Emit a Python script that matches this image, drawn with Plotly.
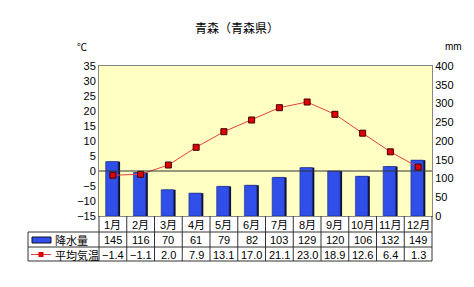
import plotly.graph_objects as go

months = ["1月", "2月", "3月", "4月", "5月", "6月", "7月", "8月", "9月", "10月", "11月", "12月"]
precip = [145, 116, 70, 61, 79, 82, 103, 129, 120, 106, 132, 149]
temp = [-1.4, -1.1, 2.0, 7.9, 13.1, 17.0, 21.1, 23.0, 18.9, 12.6, 6.4, 1.3]
temp_labels = ["-1.4", "-1.1", "2.0", "7.9", "13.1", "17.0", "21.1", "23.0", "18.9", "12.6", "6.4", "1.3"]

FONT = "Liberation Sans, Noto Sans CJK JP"
W, H = 474, 287
L, R, T, B = 99, 432, 66, 216
xs = list(range(len(months)))

fig = go.Figure()
fig.add_trace(go.Bar(x=xs, y=precip, width=0.46, offset=-0.20, marker=dict(color="#111133", line=dict(width=0)),
                     yaxis="y", hoverinfo="skip", showlegend=False))
fig.add_trace(go.Bar(x=xs, y=precip, width=0.45, offset=-0.26, marker=dict(color="#2F4FE8", line=dict(width=0.6, color="#1a2a80")),
                     yaxis="y", name="降水量", showlegend=False))
fig.add_trace(go.Scatter(x=xs, y=temp, yaxis="y2", mode="lines+markers", name="平均気温",
                         line=dict(color="#E84040", width=1),
                         marker=dict(symbol="square", size=6, color="#E00000", line=dict(width=1, color="#400000")),
                         showlegend=False))

shapes = []
annotations = []
shapes.append(dict(type="line", xref="paper", yref="y2", x0=0, x1=1, y0=0, y1=0, line=dict(color="#333333", width=1)))

def px(xp):
    return (xp - L) / (R - L)

def py(yp):
    return (B - yp) / (B - T)

def text(x, y, s, size=11, xanchor="center", family=FONT):
    annotations.append(dict(xref="paper", yref="paper", x=px(x), y=py(y), text=s, showarrow=False,
                            xanchor=xanchor, yanchor="middle",
                            font=dict(family=family, size=size, color="#000")))

TL = 28
row_y = [216, 232, 247, 261]
col_w = (R - L) / 12
line_style = dict(color="#333333", width=1)
for i in range(13):
    x = L + i * col_w
    shapes.append(dict(type="line", xref="paper", yref="paper", x0=px(x), x1=px(x), y0=py(216), y1=py(261), line=line_style))
shapes.append(dict(type="line", xref="paper", yref="paper", x0=px(TL), x1=px(TL), y0=py(232), y1=py(261), line=line_style))
for yy in row_y[1:]:
    shapes.append(dict(type="line", xref="paper", yref="paper", x0=px(TL), x1=px(R), y0=py(yy), y1=py(yy), line=line_style))

for i, m in enumerate(months):
    cx = L + (i + 0.5) * col_w
    text(cx, 224.5, m)
    text(cx, 240, str(precip[i]))
    text(cx, 254.5, temp_labels[i].replace("-", "−"))

shapes.append(dict(type="rect", xref="paper", yref="paper", x0=px(32), x1=px(51), y0=py(237), y1=py(243),
                   fillcolor="#2F4FE8", line=dict(color="#111133", width=1)))
shapes.append(dict(type="line", xref="paper", yref="paper", x0=px(31), x1=px(51), y0=py(254.5), y1=py(254.5),
                   line=dict(color="#E84040", width=1)))
shapes.append(dict(type="rect", xref="paper", yref="paper", x0=px(38.5), x1=px(43.5), y0=py(252), y1=py(257),
                   fillcolor="#E00000", line=dict(color="#E00000", width=0)))
text(53, 240, "降水量", xanchor="left", family="Noto Sans CJK JP")
text(53, 254.5, "平均気温", xanchor="left", family="Noto Sans CJK JP")

text(82, 47, "℃", size=10, family="Noto Sans CJK JP")
text(453, 47, "mm", size=10)
text(237, 27, "青森（青森県）", size=12, family="Noto Sans CJK JP")

fig.update_layout(
    width=W, height=H,
    margin=dict(l=L, r=W - R, t=T, b=H - B),
    paper_bgcolor="white",
    plot_bgcolor="#FFFFC4",
    barmode="overlay",
    xaxis=dict(range=[-0.5, 11.5], showticklabels=False, ticks="", showgrid=False, zeroline=False,
               showline=True, linecolor="#888888", mirror=True),
    yaxis=dict(range=[0, 400], dtick=50, side="right", showgrid=False, zeroline=False,
               showline=True, linecolor="#888888", ticks="", tickfont=dict(family=FONT, size=11, color="#000")),
    yaxis2=dict(range=[-15, 35], dtick=5, side="left", overlaying="y", showgrid=False, zeroline=False,
                showline=True, linecolor="#888888", ticks="", tickfont=dict(family=FONT, size=11, color="#000")),
    shapes=shapes,
    annotations=annotations,
    showlegend=False,
)

fig.write_html("out.html")
